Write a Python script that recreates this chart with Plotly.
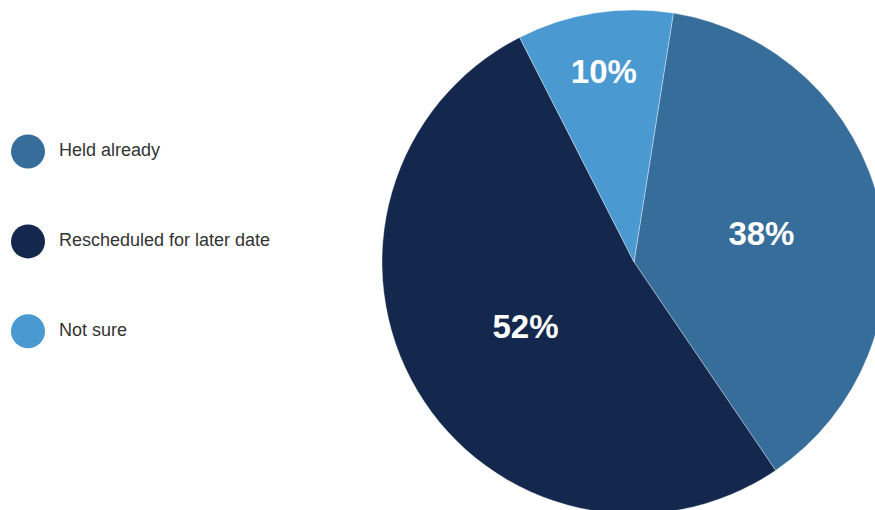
import plotly.graph_objects as go

# Survey answers and their shares (%)
categories = ["Held already", "Rescheduled for later date", "Not sure"]
shares = [38, 52, 10]
colors = ["#376d9a", "#14284d", "#4a99d1"]

W, H = 890, 524
FONT = "Liberation Sans, Arial, Helvetica, sans-serif"

fig = go.Figure()

# Pie
fig.add_trace(go.Pie(
    labels=categories,
    values=shares,
    sort=False,
    direction="clockwise",
    rotation=9,
    marker=dict(colors=colors, line=dict(color="rgba(255,255,255,0.6)", width=0.6)),
    texttemplate="%{value}%",
    textposition="inside",
    insidetextorientation="horizontal",
    textfont=dict(family=FONT, size=33, color="white", weight="bold"),
    hoverinfo="skip",
    showlegend=False,
    domain=dict(x=[382 / W, 886 / W], y=[10 / H, 514 / H]),
))

# Legend drawn as round markers with labels
idx = list(range(len(categories)))
fig.add_trace(go.Scatter(
    x=[0] * len(categories), y=idx, mode="markers",
    marker=dict(size=34, color=colors, line=dict(width=0)),
    hoverinfo="skip", showlegend=False,
))
fig.add_trace(go.Scatter(
    x=[31] * len(categories), y=idx, mode="text",
    text=categories, textposition="middle right",
    textfont=dict(family=FONT, size=18, color="#333333"),
    hoverinfo="skip", showlegend=False,
))

lo = -151.5 / 89.9
hi = lo + H / 89.9
fig.update_layout(
    width=W, height=H,
    margin=dict(l=0, r=0, t=0, b=0),
    paper_bgcolor="white", plot_bgcolor="white",
    xaxis=dict(domain=[0, 0.4], range=[-28, 0.4 * W - 28], visible=False, fixedrange=True),
    yaxis=dict(domain=[0, 1], range=[hi, lo], visible=False, fixedrange=True),
)

fig.write_html(
    "out.html",
    config={"displayModeBar": False, "staticPlot": True},
    post_script="document.documentElement.style.overflow='hidden';document.body.style.overflow='hidden';document.body.style.margin='0';",
)
